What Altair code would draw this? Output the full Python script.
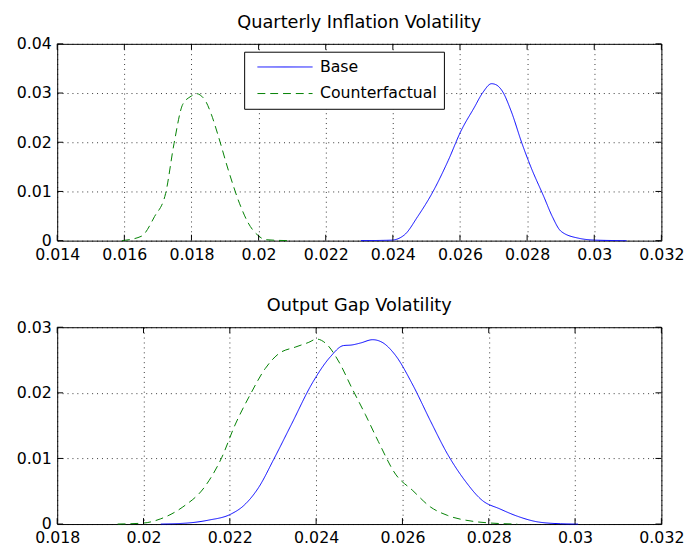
import altair as alt
import pandas as pd

# Top panel: Quarterly Inflation Volatility
infl_base_x = [0.02305, 0.02396, 0.02435, 0.02474, 0.02519, 0.02565, 0.02603, 0.02642, 0.02668, 0.02694,
               0.02707, 0.02726, 0.02752, 0.02785, 0.02811, 0.0285, 0.02875, 0.02901, 0.02953, 0.03005, 0.03096]
infl_base_y = [0.0, 0.0001, 0.0012, 0.0049, 0.0099, 0.0163, 0.0223, 0.0270, 0.0301, 0.0319,
               0.0317, 0.0304, 0.0264, 0.0197, 0.0150, 0.0089, 0.0049, 0.0019, 0.0005, 0.0001, 0.0]
infl_cf_x = [0.01593, 0.01651, 0.0169, 0.01723, 0.01748, 0.01774, 0.0180, 0.01813, 0.01839, 0.01859,
             0.01878, 0.0191, 0.01943, 0.01969, 0.02001, 0.0202, 0.02092]
infl_cf_y = [0.0, 0.0009, 0.0049, 0.0096, 0.0197, 0.0277, 0.0294, 0.0299, 0.0287, 0.0257,
             0.0217, 0.0143, 0.0076, 0.0036, 0.0009, 0.0002, 0.0]

# Bottom panel: Output Gap Volatility
gap_base_x = [0.0204, 0.02101, 0.02151, 0.02202, 0.02232, 0.02267, 0.02302, 0.02342, 0.02393, 0.02433,
              0.02463, 0.02483, 0.02503, 0.02531, 0.02553, 0.02584, 0.02624, 0.02665, 0.02705, 0.02745,
              0.02785, 0.02826, 0.02866, 0.02916, 0.02966, 0.03007]
gap_base_y = [0.0, 0.00015, 0.0006, 0.0015, 0.0028, 0.0056, 0.0099, 0.0151, 0.0217, 0.0255,
              0.0272, 0.0273, 0.0276, 0.0281, 0.0277, 0.0257, 0.0212, 0.0157, 0.0106, 0.0066,
              0.0036, 0.0023, 0.0012, 0.0003, 0.00005, 0.0]
gap_cf_x = [0.0194, 0.0200, 0.0204, 0.02091, 0.02141, 0.02181, 0.02212, 0.02247, 0.02282, 0.02312,
            0.02353, 0.02383, 0.02401, 0.02423, 0.02453, 0.02483, 0.02514, 0.02544, 0.02584, 0.02624,
            0.02665, 0.02705, 0.02765, 0.02805, 0.02866]
gap_cf_y = [0.0, 0.00015, 0.0008, 0.0026, 0.0056, 0.0101, 0.0151, 0.0197, 0.0237, 0.0259,
            0.0270, 0.0277, 0.0282, 0.0275, 0.0247, 0.0207, 0.0167, 0.0126, 0.0076, 0.0051,
            0.0026, 0.0013, 0.0004, 0.00015, 0.0]

series_names = ["Base", "Counterfactual"]
series_colors = ["#0000ff", "#008000"]
series_dashes = [[1, 0], [8, 5]]

top_x_ticks = [0.014, 0.016, 0.018, 0.02, 0.022, 0.024, 0.026, 0.028, 0.03, 0.032]
top_y_ticks = [0, 0.01, 0.02, 0.03, 0.04]
bot_x_ticks = [0.018, 0.02, 0.022, 0.024, 0.026, 0.028, 0.03, 0.032]
bot_y_ticks = [0, 0.01, 0.02, 0.03]

W, H, TICK = 614, 200, 6
FONT = "DejaVu Sans"


def frame(xs_base, ys_base, xs_cf, ys_cf):
    rows = []
    for i, (x, y) in enumerate(zip(xs_base, ys_base)):
        rows.append({"x": x, "y": y, "series": "Base", "order": i})
    for i, (x, y) in enumerate(zip(xs_cf, ys_cf)):
        rows.append({"x": x, "y": y, "series": "Counterfactual", "order": i})
    return pd.DataFrame(rows)


def panel(df, title, xticks, yticks, show_legend):
    if show_legend:
        legend = alt.Legend(
            title=None, orient="none", legendX=190, legendY=8,
            strokeColor="black", fillColor="white", padding=7,
            symbolType="M-0.25,0H6.75", symbolSize=256, symbolStrokeWidth=1,
            labelOffset=53,
            labelFontSize=16, labelFont=FONT, labelColor="black",
            rowPadding=10, cornerRadius=0,
        )
    else:
        legend = None
    xs = alt.Scale(domain=[xticks[0], xticks[-1]], nice=False, zero=False)
    ys = alt.Scale(domain=[yticks[0], yticks[-1]], nice=False)
    lines = alt.Chart(df).mark_line(strokeWidth=1, interpolate="monotone").encode(
        x=alt.X("x:Q", scale=xs, axis=alt.Axis(values=xticks, format="~g", title=None, labelFlush=False)),
        y=alt.Y("y:Q", scale=ys, axis=alt.Axis(values=yticks, format="~g", title=None)),
        color=alt.Color("series:N", scale=alt.Scale(domain=series_names, range=series_colors), legend=legend),
        strokeDash=alt.StrokeDash("series:N", scale=alt.Scale(domain=series_names, range=series_dashes), legend=legend),
        order="order:Q",
    )
    xt = pd.DataFrame({"x": xticks})
    yt = pd.DataFrame({"y": yticks})
    tick_bottom = alt.Chart(xt).mark_rule(color="black", strokeWidth=1).encode(
        x="x:Q", y=alt.value(H), y2=alt.value(H - TICK))
    tick_top = alt.Chart(xt).mark_rule(color="black", strokeWidth=1).encode(
        x="x:Q", y=alt.value(0), y2=alt.value(TICK))
    tick_left = alt.Chart(yt).mark_rule(color="black", strokeWidth=1).encode(
        y="y:Q", x=alt.value(0), x2=alt.value(TICK))
    tick_right = alt.Chart(yt).mark_rule(color="black", strokeWidth=1).encode(
        y="y:Q", x=alt.value(W), x2=alt.value(W - TICK))
    return alt.layer(lines, tick_bottom, tick_top, tick_left, tick_right).properties(
        width=W, height=H, title=title,
    )


top = panel(frame(infl_base_x, infl_base_y, infl_cf_x, infl_cf_y),
            "Quarterly Inflation Volatility", top_x_ticks, top_y_ticks, True)
bottom = panel(frame(gap_base_x, gap_base_y, gap_cf_x, gap_cf_y),
               "Output Gap Volatility", bot_x_ticks, bot_y_ticks, False)

chart = alt.vconcat(top, bottom, spacing=34).resolve_scale(
    x="independent", y="independent", color="independent", strokeDash="independent"
).properties(
    padding={"left": 7, "top": 1, "right": 0, "bottom": 2}
).configure_view(
    stroke="black", strokeWidth=1
).configure_title(
    font=FONT, fontSize=18, fontWeight="normal", color="black", offset=0
).configure_axis(
    labelFont=FONT, labelFontSize=16, labelColor="black",
    domain=False, ticks=False, labelPadding=6, labelOverlap=False,
    gridColor="black", gridDash=[1, 4], gridWidth=1, gridOpacity=0.8,
)

chart.save("out.html", embed_options={"renderer": "svg", "actions": False})
